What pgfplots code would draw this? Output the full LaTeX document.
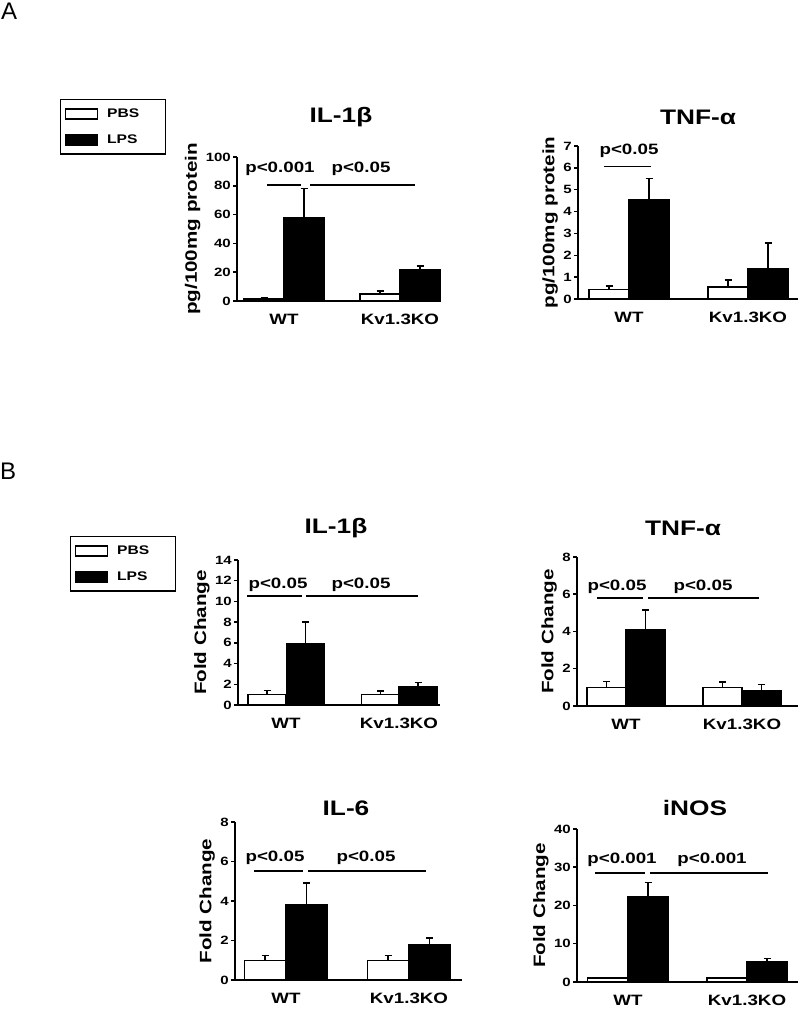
\documentclass[border=0pt]{standalone}
\usepackage{fontspec}
\setmainfont{Liberation Sans}[FakeStretch=1.25]
\newfontfamily\plainfont{Liberation Sans}
\usepackage{pgfplots}
\pgfplotsset{compat=1.18}
\newcommand{\fTitle}{\fontsize{21bp}{25bp}\selectfont\bfseries}
\newcommand{\fP}{\fontsize{15bp}{18bp}\selectfont\bfseries}
\newcommand{\fX}{\fontsize{15bp}{18bp}\selectfont\bfseries}
\newcommand{\fY}{\fontsize{12bp}{14bp}\selectfont\bfseries}
\newcommand{\fLab}{\fontsize{16.5bp}{19bp}\selectfont\bfseries}
\newcommand{\fLeg}{\fontsize{12.5bp}{15bp}\selectfont\bfseries}
\pgfplotsset{
  panel/.style={scale only axis, anchor=south west, axis lines*=left,
    axis line style={line width=2bp,-}, xmin=0, ymin=0, clip=false,
    tick align=outside, major tick length=4bp,
    ytick style={line width=1.5bp, black}, xtick style={draw=none},
    yticklabel style={font=\fY, inner sep=2bp},
    xticklabel style={font=\fX}, xticklabel shift=6bp,
    xticklabels={WT,Kv1.3KO},
    ylabel style={font=\fLab},
    /pgf/number format/assume math mode=true,
    legend cell align=left},
  ebar/.style={error bars/.cd, y dir=plus, y explicit,
    error bar style={line width=1.5bp, black},
    error mark options={rotate=90, line width=1.5bp, mark size=3.5bp, black}},
  pbs/.style={ybar, bar shift=0pt, draw=black, line width=1.5bp, fill=white,
    legend image code/.code={\draw[fill=white,draw=black,line width=1.5bp] (0bp,-5bp) rectangle (32bp,5bp);},
    ebar},
  lps/.style={ybar, bar shift=0pt, draw=black, line width=1.5bp, fill=black,
    legend image code/.code={\draw[fill=black,draw=black,line width=1.5bp] (0bp,-5bp) rectangle (32bp,5bp);},
    ebar},
  leg/.style={legend style={draw=black, line width=1.5bp, font=\fLeg,
    inner xsep=4bp, inner ysep=7bp, row sep=12bp, anchor=north west,
    /tikz/every odd column/.append style={column sep=7bp}}}
}
\begin{document}
\begin{tikzpicture}[x=1bp,y=1bp]
\useasboundingbox (0,0) rectangle (800,1010);
\node[anchor=west, inner sep=0pt, font=\plainfont\fontsize{24bp}{28bp}\selectfont] at (1,999) {A};
\node[anchor=west, inner sep=0pt, font=\plainfont\fontsize{24bp}{28bp}\selectfont] at (0,539) {B};

% ---- A: IL-1beta
\begin{axis}[panel, leg, at={(237bp,709bp)}, width=204bp, height=144bp,
  xmax=204, ymax=100, ytick={0,20,...,100}, xtick={47,163}, bar width=40bp,
  ylabel={pg/100mg protein},
  legend style={at={(axis description cs:-0.868,1.403)}}]
\addplot[pbs] table[x=x,y=y,y error=e] {
x y e
27 1.5 0.6
143 5 2
};
\addlegendentry{PBS\hspace*{20bp}}
\addplot[lps] table[x=x,y=y,y error=e] {
x y e
67 58 20
183 22 2.2
};
\addlegendentry{LPS\hspace*{20bp}}
\draw[line width=1.5bp] (axis cs:30,80.4) -- (axis cs:64,80.4);
\draw[line width=1.5bp] (axis cs:73,80.4) -- (axis cs:178,80.4);
\node[font=\fP] at (axis cs:43,92) {p<0.001};
\node[font=\fP] at (axis cs:124,92) {p<0.05};
\end{axis}
\node[font=\fTitle] at (341,893) {IL-1β};

% ---- A: TNF-alpha
\begin{axis}[panel, at={(578bp,711bp)}, width=220bp, height=153bp,
  xmax=220, ymax=7, ytick={0,1,...,7}, xtick={51,170}, bar width=40bp,
  ylabel={pg/100mg protein}]
\addplot[pbs] table[x=x,y=y,y error=e] {
x y e
31 0.44 0.16
150 0.55 0.33
};
\addplot[lps] table[x=x,y=y,y error=e] {
x y e
71 4.53 0.99
190 1.4 1.15
};
\draw[line width=1.5bp] (axis cs:26,6.05) -- (axis cs:73,6.05);
\node[font=\fP] at (axis cs:51,6.78) {p<0.05};
\end{axis}
\node[font=\fTitle] at (698,893) {TNF-α};

% ---- B: IL-1beta
\begin{axis}[panel, leg, at={(238bp,305bp)}, width=202bp, height=145bp,
  xmax=202, ymax=14, ytick={0,2,...,14}, xtick={48,161}, bar width=38bp,
  ylabel={Fold Change},
  legend style={at={(axis description cs:-0.832,1.166)}}]
\addplot[pbs] table[x=x,y=y,y error=e] {
x y e
29 1.0 0.4
142.5 1.0 0.35
};
\addlegendentry{PBS\hspace*{20bp}}
\addplot[lps] table[x=x,y=y,y error=e] {
x y e
67.5 5.9 2.1
180 1.8 0.35
};
\addlegendentry{LPS\hspace*{20bp}}
\draw[line width=2.5bp] (axis cs:9,10.5) -- (axis cs:64,10.5);
\draw[line width=2.5bp] (axis cs:68,10.5) -- (axis cs:180,10.5);
\node[font=\fP] at (axis cs:40,11.6) {p<0.05};
\node[font=\fP] at (axis cs:123,11.6) {p<0.05};
\end{axis}
\node[font=\fTitle] at (336,482) {IL-1β};

% ---- B: TNF-alpha
\begin{axis}[panel, at={(577bp,304bp)}, width=221bp, height=149bp,
  xmax=221, ymax=8, ytick={0,2,...,8}, xtick={49,165}, bar width=39bp,
  ylabel={Fold Change}]
\addplot[pbs] table[x=x,y=y,y error=e] {
x y e
29.5 1.0 0.32
145.5 1.0 0.3
};
\addplot[lps] table[x=x,y=y,y error=e] {
x y e
68.5 4.1 1.05
184.5 0.8 0.35
};
\draw[line width=2.5bp] (axis cs:20,5.8) -- (axis cs:66,5.8);
\draw[line width=2.5bp] (axis cs:71,5.8) -- (axis cs:182,5.8);
\node[font=\fP] at (axis cs:40,6.4) {p<0.05};
\node[font=\fP] at (axis cs:126,6.4) {p<0.05};
\end{axis}
\node[font=\fTitle] at (683,482) {TNF-α};

% ---- B: IL-6
\begin{axis}[panel, at={(235bp,30bp)}, width=227bp, height=158bp,
  xmax=227, ymax=8, ytick={0,2,...,8}, xtick={51,174}, bar width=41bp,
  ylabel={Fold Change}]
\addplot[pbs] table[x=x,y=y,y error=e] {
x y e
30 1.0 0.25
153 1.0 0.25
};
\addplot[lps] table[x=x,y=y,y error=e] {
x y e
71.5 3.8 1.12
194.5 1.8 0.33
};
\draw[line width=2.5bp] (axis cs:19,5.52) -- (axis cs:68,5.52);
\draw[line width=2.5bp] (axis cs:73,5.52) -- (axis cs:191,5.52);
\node[font=\fP] at (axis cs:40,6.18) {p<0.05};
\node[font=\fP] at (axis cs:131,6.18) {p<0.05};
\end{axis}
\node[font=\fTitle] at (346,202) {IL-6};

% ---- B: iNOS
\begin{axis}[panel, at={(577bp,28bp)}, width=221bp, height=153bp,
  xmax=221, ymax=40, ytick={0,10,...,40}, xtick={51,170}, bar width=40bp,
  ylabel={Fold Change}]
\addplot[pbs] table[x=x,y=y,y error=e] {
x y e
30.5 1.0 0.2
150 1.0 0.2
};
\addplot[lps] table[x=x,y=y,y error=e] {
x y e
71 22.2 3.8
190 5.2 1.0
};
\draw[line width=2.5bp] (axis cs:18,28.5) -- (axis cs:68,28.5);
\draw[line width=2.5bp] (axis cs:73,28.5) -- (axis cs:191,28.5);
\node[font=\fP] at (axis cs:45,31.9) {p<0.001};
\node[font=\fP] at (axis cs:135,31.9) {p<0.001};
\end{axis}
\node[font=\fTitle] at (695,202) {iNOS};
\end{tikzpicture}
\end{document}
